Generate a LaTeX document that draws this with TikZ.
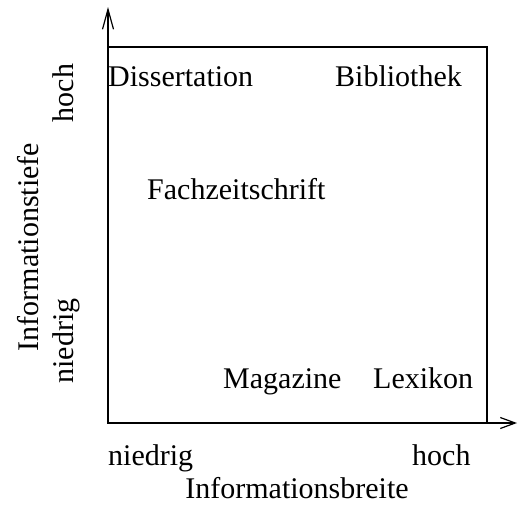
\documentclass[tikz,border=0pt]{standalone}
\usepackage{fontspec}
\setmainfont{Liberation Serif}
\usetikzlibrary{arrows.meta}
\begin{document}
\begin{tikzpicture}[x=1pt,y=-1pt,
  lbl/.style={inner sep=0pt,anchor=base west,font=\fontsize{30}{34}\selectfont},
  vlbl/.style={inner sep=0pt,anchor=base,rotate=90,font=\fontsize{30}{34}\selectfont},
  axis/.style={line width=1.2pt},
  frame/.style={line width=1.2pt}]
\useasboundingbox (0,0) rectangle (518,504);
\coordinate (o) at (108,423);
\coordinate (ytop) at (108,7);
\coordinate (xend) at (517,423);
\draw[frame] (108,47) rectangle (487,423);
\draw[axis,-{Straight Barb[length=20pt,width=11pt]}] (o) -- (ytop);
\draw[axis,-{Straight Barb[length=15pt,width=11pt]}] (o) -- (xend);
\node[lbl] (diss) at (108,86) {Dissertation};
\node[lbl] (bib) at (335,86) {Bibliothek};
\node[lbl] (fach) at (147,199) {Fachzeitschrift};
\node[lbl] (mag) at (223,388) {Magazine};
\node[lbl] (lex) at (373,388) {Lexikon};
\node[lbl] (xlo) at (108,465) {niedrig};
\node[lbl] (xhi) at (412,465) {hoch};
\node[inner sep=0pt,anchor=base,font=\fontsize{30}{34}\selectfont] (xt) at (297,498) {Informationsbreite};
\node[vlbl] (yt) at (38,247) {Informationstiefe};
\node[vlbl] (ylo) at (73,341) {niedrig};
\node[vlbl] (yhi) at (73,93) {hoch};
\end{tikzpicture}
\end{document}
